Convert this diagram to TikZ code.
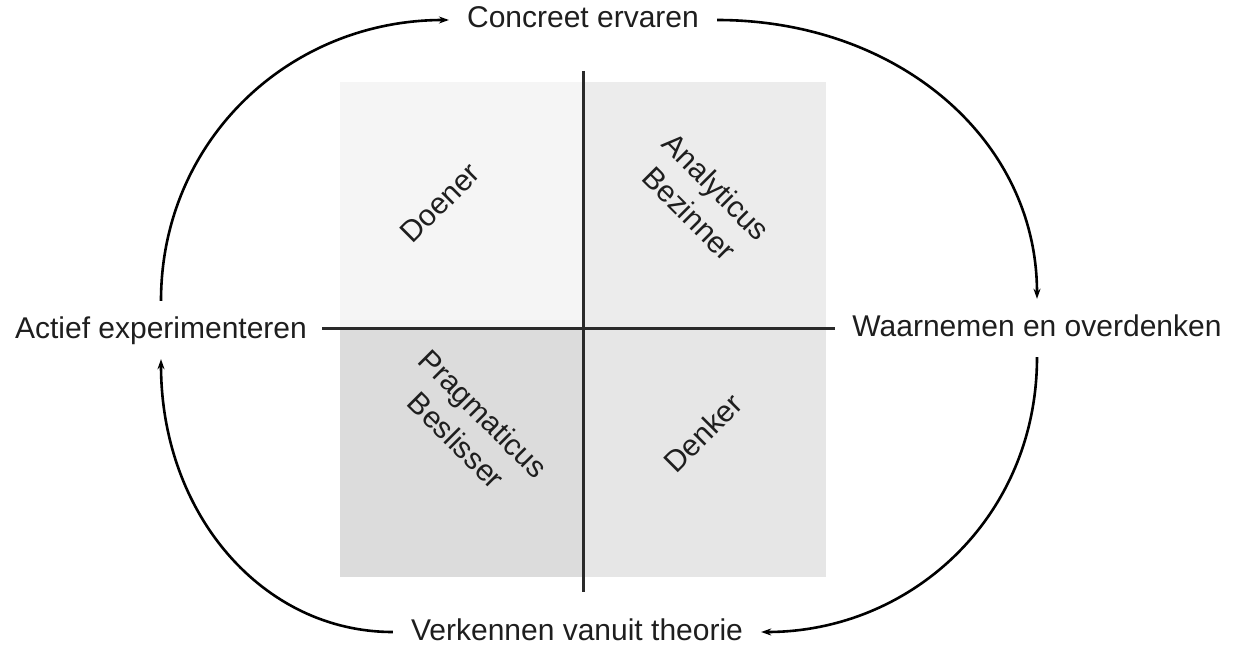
\documentclass[tikz,border=0pt]{standalone}
\usepackage{fontspec}
\setmainfont{Liberation Sans}
\usetikzlibrary{arrows.meta,calc}
\definecolor{qtl}{HTML}{F5F5F5}
\definecolor{qtr}{HTML}{ECECEC}
\definecolor{qbl}{HTML}{DCDCDC}
\definecolor{qbr}{HTML}{E6E6E6}
\definecolor{axiscol}{HTML}{2A2A2A}
\definecolor{txtcol}{HTML}{1E1E1E}
\begin{document}
\begin{tikzpicture}[x=1pt,y=-1pt,
  lbl/.style={font=\fontsize{30}{34}\selectfont, text=txtcol, text height=22pt, text depth=6pt, inner ysep=15pt, inner xsep=18pt},
  qlbl/.style={font=\fontsize{30}{38}\selectfont, text=txtcol, align=center, inner sep=0pt},
  axisline/.style={line width=3pt, draw=axiscol},
  cyc/.style={line width=2.6pt, -{Stealth[length=10pt,width=7pt]}}
]
\useasboundingbox (0,0) rectangle (1237,650);
% quadrants
\fill[qtl] (340,82) rectangle (583,328);
\fill[qtr] (583,82) rectangle (826,328);
\fill[qbl] (340,328) rectangle (583,577);
\fill[qbr] (583,328) rectangle (826,577);
% axes
\coordinate (vt) at (583,71);
\coordinate (vb) at (583,592);
\coordinate (hl) at (322,328);
\coordinate (hr) at (835,328);
\draw[axisline] (vt) -- (vb);
\draw[axisline] (hl) -- (hr);
% outer labels
\node[lbl] (ce) at (583,20) {Concreet ervaren};
\node[lbl] (wo) at (1037,328) {Waarnemen en overdenken};
\node[lbl] (vt2) at (577,632) {Verkennen vanuit theorie};
\node[lbl] (ae) at (161,330) {Actief experimenteren};
% quadrant labels
\node[qlbl, rotate=45] (doener) at (440,203) {Doener};
\node[qlbl, rotate=-45] (analyt) at (703,200) {Analyticus\\Bezinner};
\node[qlbl, rotate=-45] (pragm) at (470,427) {Pragmaticus\\Beslisser};
\node[qlbl, rotate=45] (denker) at (703,433) {Denker};
% cycle arrows
\draw[cyc] (ae.north) .. controls ($(ae.north)+(0,-160)$) and ($(ce.west)+(-160,0)$) .. (ce.west);
\draw[cyc] (ce.east) .. controls ($(ce.east)+(180,0)$) and ($(wo.north)+(0,-160)$) .. (wo.north);
\draw[cyc] (wo.south) .. controls ($(wo.south)+(0,160)$) and ($(vt2.east)+(150,0)$) .. (vt2.east);
\draw[cyc] (vt2.west) .. controls ($(vt2.west)+(-130,0)$) and ($(ae.south)+(0,155)$) .. (ae.south);
\end{tikzpicture}
\end{document}
